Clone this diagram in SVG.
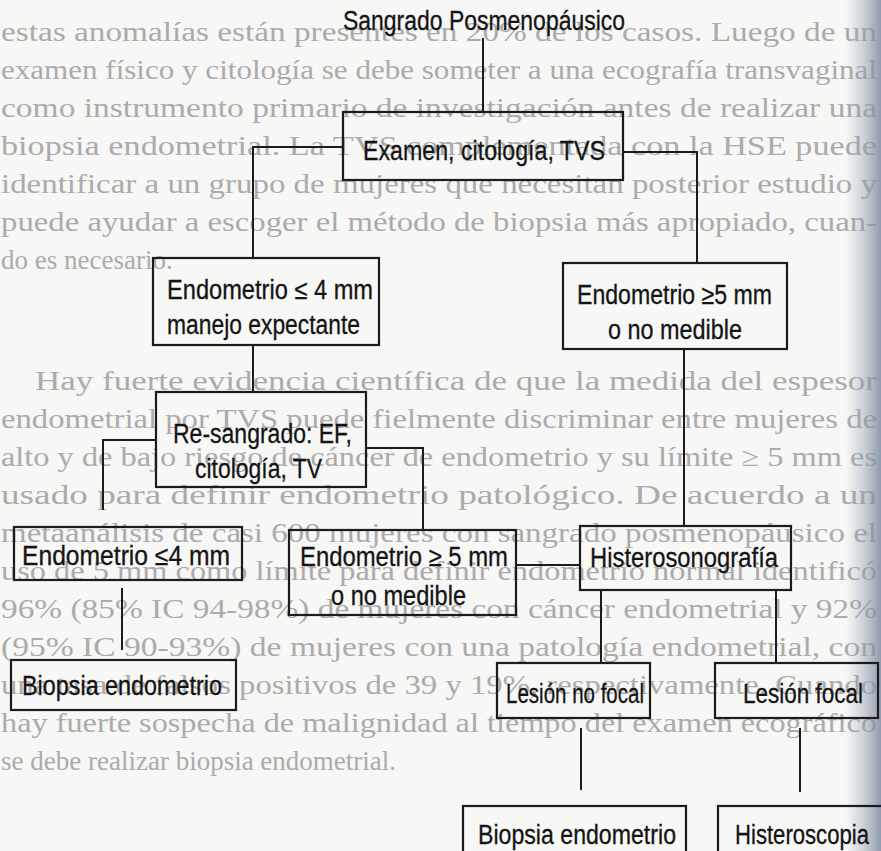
<svg xmlns="http://www.w3.org/2000/svg" width="881" height="851" viewBox="0 0 881 851">
<defs>
<linearGradient id="edge" x1="0" y1="0" x2="1" y2="0">
<stop offset="0" stop-color="#8d99ad" stop-opacity="0"/>
<stop offset="0.5" stop-color="#8d99ad" stop-opacity="0.4"/>
<stop offset="1" stop-color="#7e8aa0" stop-opacity="0.85"/>
</linearGradient>
<style>
.bg{font-family:"Liberation Serif","Times New Roman",serif;font-size:27px;fill:#ababab}
.t{font-family:"Liberation Sans Narrow","Liberation Sans",Arial,sans-serif;font-size:27px;fill:#141414;stroke:#141414;stroke-width:0.3}
.box{fill:none;stroke:#1c1c1c;stroke-width:2.2}
.ln{fill:none;stroke:#1c1c1c;stroke-width:2}
</style>
</defs>
<rect width="881" height="851" fill="#f7f7f5"/>
<g id="page-text">
<text class="bg" x="1" y="41" textLength="876" lengthAdjust="spacingAndGlyphs">estas anomalías están presentes en 20% de los casos. Luego de un</text>
<text class="bg" x="1" y="79" textLength="876" lengthAdjust="spacingAndGlyphs">examen físico y citología se debe someter a una ecografía transvaginal</text>
<text class="bg" x="1" y="117" textLength="876" lengthAdjust="spacingAndGlyphs">como instrumento primario de investigación antes de realizar una</text>
<text class="bg" x="1" y="155" textLength="876" lengthAdjust="spacingAndGlyphs">biopsia endometrial. La TVS complementada con la HSE puede</text>
<text class="bg" x="1" y="193" textLength="876" lengthAdjust="spacingAndGlyphs">identificar a un grupo de mujeres que necesitan posterior estudio y</text>
<text class="bg" x="1" y="231" textLength="876" lengthAdjust="spacingAndGlyphs">puede ayudar a escoger el método de biopsia más apropiado, cuan-</text>
<text class="bg" x="1" y="269">do es necesario.</text>
<text class="bg" x="35" y="390" textLength="842" lengthAdjust="spacingAndGlyphs">Hay fuerte evidencia científica de que la medida del espesor</text>
<text class="bg" x="1" y="428" textLength="876" lengthAdjust="spacingAndGlyphs">endometrial por TVS puede fielmente discriminar entre mujeres de</text>
<text class="bg" x="1" y="466" textLength="876" lengthAdjust="spacingAndGlyphs">alto y de bajo riesgo de cáncer de endometrio y su límite ≥ 5 mm es</text>
<text class="bg" x="1" y="504" textLength="876" lengthAdjust="spacingAndGlyphs">usado para definir endometrio patológico. De acuerdo a un</text>
<text class="bg" x="1" y="542" textLength="876" lengthAdjust="spacingAndGlyphs">metaanálisis de casi 600 mujeres con sangrado posmenopáusico el</text>
<text class="bg" x="1" y="580" textLength="876" lengthAdjust="spacingAndGlyphs">uso de 5 mm como límite para definir endometrio normal identificó</text>
<text class="bg" x="1" y="618" textLength="876" lengthAdjust="spacingAndGlyphs">96% (85% IC 94-98%) de mujeres con cáncer endometrial y 92%</text>
<text class="bg" x="1" y="656" textLength="876" lengthAdjust="spacingAndGlyphs">(95% IC 90-93%) de mujeres con una patología endometrial, con</text>
<text class="bg" x="1" y="694" textLength="876" lengthAdjust="spacingAndGlyphs">una tasa de falsos positivos de 39 y 19%, respectivamente. Cuando</text>
<text class="bg" x="1" y="732" textLength="876" lengthAdjust="spacingAndGlyphs">hay fuerte sospecha de malignidad al tiempo del examen ecográfico</text>
<text class="bg" x="1" y="770">se debe realizar biopsia endometrial.</text>
</g>
<rect x="846" y="0" width="35" height="851" fill="url(#edge)"/>
<g id="connectors">
<line class="ln" x1="483" y1="38" x2="483" y2="112"/>
<polyline class="ln" points="343,147 253,147 253,258"/>
<polyline class="ln" points="623,152 697,152 697,263"/>
<line class="ln" x1="253" y1="345" x2="253" y2="392"/>
<polyline class="ln" points="156,440 103,440 103,510"/>
<polyline class="ln" points="366,448 423,448 423,530"/>
<line class="ln" x1="684" y1="349" x2="684" y2="526"/>
<line class="ln" x1="516" y1="565" x2="580" y2="565"/>
<line class="ln" x1="122" y1="588" x2="122" y2="650"/>
<line class="ln" x1="601" y1="590" x2="601" y2="663"/>
<line class="ln" x1="776" y1="590" x2="776" y2="663"/>
<line class="ln" x1="581" y1="728" x2="581" y2="790"/>
<line class="ln" x1="800" y1="728" x2="800" y2="792"/>
</g>
<g id="n-title"><text class="t" x="343" y="30" textLength="282" lengthAdjust="spacingAndGlyphs">Sangrado Posmenopáusico</text></g>
<g id="n-examen"><rect class="box" x="343" y="112" width="280" height="68"/><text class="t" x="363" y="160" textLength="242" lengthAdjust="spacingAndGlyphs">Examen, citología, TVS</text></g>
<g id="n-endo4"><rect class="box" x="153" y="258" width="226" height="87"/><text class="t" x="167" y="299" textLength="206" lengthAdjust="spacingAndGlyphs">Endometrio ≤ 4 mm</text><text class="t" x="167" y="334" textLength="193" lengthAdjust="spacingAndGlyphs">manejo expectante</text></g>
<g id="n-endo5"><rect class="box" x="563" y="263" width="224" height="86"/><text class="t" x="577" y="304" textLength="195" lengthAdjust="spacingAndGlyphs">Endometrio ≥5 mm</text><text class="t" x="608" y="339" textLength="134" lengthAdjust="spacingAndGlyphs">o no medible</text></g>
<g id="n-resangrado"><rect class="box" x="156" y="392" width="210" height="95"/><text class="t" x="173" y="443" textLength="179" lengthAdjust="spacingAndGlyphs">Re-sangrado: EF,</text><text class="t" x="195" y="478" textLength="127" lengthAdjust="spacingAndGlyphs">citología, TV</text></g>
<g id="n-endo4b"><rect class="box" x="14" y="527" width="228" height="53"/><text class="t" x="22" y="565" textLength="208" lengthAdjust="spacingAndGlyphs">Endometrio ≤4 mm</text></g>
<g id="n-endo5b"><rect class="box" x="289" y="530" width="227" height="85"/><text class="t" x="300" y="566" textLength="208" lengthAdjust="spacingAndGlyphs">Endometrio ≥ 5 mm</text><text class="t" x="331" y="605" textLength="135" lengthAdjust="spacingAndGlyphs">o no medible</text></g>
<g id="n-histerosono"><rect class="box" x="580" y="526" width="211" height="64"/><text class="t" x="590" y="567" textLength="188" lengthAdjust="spacingAndGlyphs">Histerosonografía</text></g>
<g id="n-biopsia1"><rect class="box" x="11" y="660" width="225" height="50"/><text class="t" x="22" y="695" textLength="200" lengthAdjust="spacingAndGlyphs">Biopsia endometrio</text></g>
<g id="n-nofocal"><rect class="box" x="497" y="663" width="153" height="55"/><text class="t" x="506" y="703" textLength="138" lengthAdjust="spacingAndGlyphs">Lesión no focal</text></g>
<g id="n-focal"><rect class="box" x="715" y="663" width="163" height="55"/><text class="t" x="743" y="703" textLength="120" lengthAdjust="spacingAndGlyphs">Lesión focal</text></g>
<g id="n-biopsia2"><rect class="box" x="463" y="806" width="223" height="60"/><text class="t" x="478" y="844" textLength="198" lengthAdjust="spacingAndGlyphs">Biopsia endometrio</text></g>
<g id="n-histeroscopia"><rect class="box" x="718" y="806" width="175" height="60"/><text class="t" x="735" y="844" textLength="134" lengthAdjust="spacingAndGlyphs">Histeroscopia</text></g>
</svg>
